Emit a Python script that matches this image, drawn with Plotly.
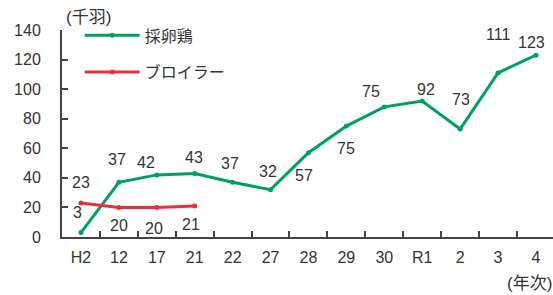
import plotly.graph_objects as go

categories = ["H2", "12", "17", "21", "22", "27", "28", "29", "30", "R1", "2", "3", "4"]
layers = [3, 37, 42, 43, 37, 32, 57, 75, 88, 92, 73, 111, 123]
layer_labels = ["3", "37", "42", "43", "37", "32", "57", "75", "75", "92", "73", "111", "123"]
broiler_cats = ["H2", "12", "17", "21"]
broilers = [23, 20, 20, 21]
broiler_labels = ["23", "20", "20", "21"]
y_ticks = [0, 20, 40, 60, 80, 100, 120, 140]

# label offsets (px) relative to point: (xshift, yshift)
layer_offsets = [(-3, 20), (-2, 23), (-11, 12), (-1, 16), (-3, 19), (-3, 18), (-4, -23),
                 (0, -22), (-13, 15), (4, 11), (1, 30), (0, 38), (-4, 13)]
broiler_offsets = [(0, 20), (0, -18), (-3, -21), (-4, -19)]

GREEN = "#00a060"
RED = "#e8303a"
FONT = "Liberation Sans, Arial, Noto Sans CJK JP, sans-serif"
TXT = "#333333"

fig = go.Figure()
fig.add_trace(go.Scatter(x=categories, y=layers, mode="lines+markers", name="採卵鶏",
                         line=dict(color=GREEN, width=3), marker=dict(size=5, color=GREEN),
                         legendgroup="a", cliponaxis=False))
fig.add_trace(go.Scatter(x=broiler_cats, y=broilers, mode="lines+markers", name="ブロイラー",
                         line=dict(color=RED, width=3), marker=dict(size=5, color=RED),
                         legendgroup="b", cliponaxis=False))

anns = []
for c, v, t, (dx, dy) in zip(categories, layers, layer_labels, layer_offsets):
    anns.append(dict(x=categories.index(c), y=v, text=t, showarrow=False, xshift=dx, yshift=dy,
                     font=dict(size=16, color=TXT, family=FONT)))
for c, v, t, (dx, dy) in zip(broiler_cats, broilers, broiler_labels, broiler_offsets):
    anns.append(dict(x=categories.index(c), y=v, text=t, showarrow=False, xshift=dx, yshift=dy,
                     font=dict(size=16, color=TXT, family=FONT)))
anns.append(dict(xref="paper", yref="paper", x=0.054, y=1.0, yshift=13, text="(千羽)",
                 showarrow=False, xanchor="center", yanchor="middle",
                 font=dict(size=17, color=TXT, family=FONT)))
anns.append(dict(xref="paper", yref="paper", x=0.953, y=0, yshift=-46, text="(年次)",
                 showarrow=False, xanchor="center", yanchor="middle",
                 font=dict(size=17, color=TXT, family=FONT)))

fig.update_layout(
    width=553, height=295,
    margin=dict(l=62, r=0, t=30, b=58),
    plot_bgcolor="white", paper_bgcolor="white",
    font=dict(family=FONT, color=TXT, size=14),
    showlegend=True,
    legend=dict(x=0.036, y=1.056, xanchor="left", yanchor="top", bgcolor="rgba(0,0,0,0)",
                font=dict(size=16, color=TXT, family=FONT), tracegroupgap=13,
                itemwidth=55),
    annotations=anns,
    xaxis=dict(type="category", categoryorder="array", categoryarray=categories,
               range=[-0.5, 12.45], showline=True, linecolor="#444", linewidth=2,
               ticks="inside", ticklen=6, tickcolor="#444", tickwidth=2,
               tickson="boundaries", showgrid=False, zeroline=False, automargin=False,
               tickfont=dict(size=16, color=TXT), ticklabelstandoff=5),
    yaxis=dict(range=[0, 140], tickvals=y_ticks, showline=True, linecolor="#444",
               linewidth=2, ticks="inside", ticklen=6, tickcolor="#444", tickwidth=2,
               showgrid=False, zeroline=False, tickfont=dict(size=16, color=TXT),
               ticklabelstandoff=16, automargin=False),
)

fig.write_html("out.html", config={"displayModeBar": False},
               post_script="document.body.style.margin='0';")
